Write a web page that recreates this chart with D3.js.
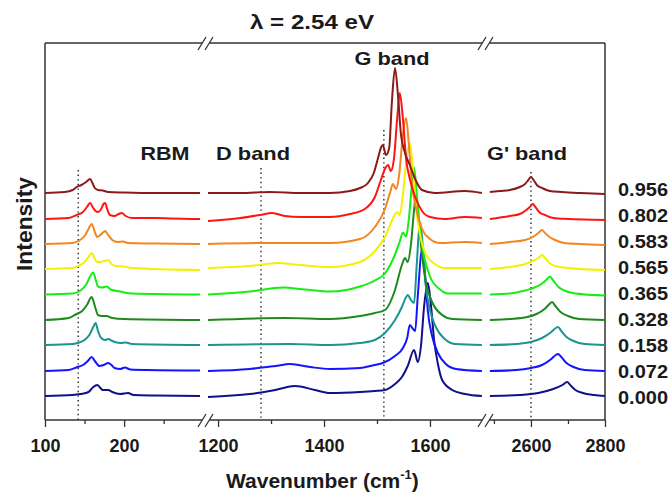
<!DOCTYPE html>
<html>
<head>
<meta charset="utf-8">
<script src="https://cdn.jsdelivr.net/npm/d3@7"></script>
<style>
  html, body { margin: 0; padding: 0; background: #fff; }
  svg { display: block; font-family: Arial, "Liberation Sans", sans-serif; }
</style>
</head>
<body>
<svg id="chart" width="670" height="498"></svg>
<script>
// samples from bottom (0.000) to top (0.956)
const samples = ["0.000", "0.072", "0.158", "0.328", "0.365", "0.565", "0.583", "0.802", "0.956"];
const colors = ["#10108a", "#1414ff", "#1a9494", "#1e8a1e", "#14ee14", "#f2f200", "#f5861f", "#ff1414", "#8b1a1a"];
// vertical offset of each spectrum (a.u.)
const offsets = [0, 25, 51, 76, 101.5, 127, 152, 177, 203];

// axis pieces (wavenumber, cm-1)
const segDomains = [[100, 301], [1181, 1702], [2484, 2800]];
const majorTicks = [[100, 200], [1200, 1400, 1600], [2600, 2800]];
const minorTicks = [[150, 250], [1300, 1500], [2500, 2700]];

// dotted guides: wavenumber and top (a.u.)
const guideWavenumbers = [142, 1281, 1513, 2600];
const guideTops = [226, 228, 266, 224];

// [wavenumber, intensity], one list per sample
const rbmSpectra = [
  [[100,0],[135,1],[145,2],[155,4],[161,9],[166,11],[170,8],[173,6],[177,6],[180,6],[185,4],[195,2],[205,3],[212,1],[240,0.5],[296,0]],
  [[100,0],[130,1],[141,4],[148,6],[154,10],[159,14],[163,10],[169,5],[174,6],[180,8],[184,6],[188,3],[195,2],[201,3.5],[208,1.5],[230,1],[296,0.5]],
  [[100,0],[135,1],[141,2],[150,5],[156,10],[161,18],[164,22],[167,14],[171,7],[176,5],[180,6],[185,4],[195,2],[202,2.5],[210,1],[296,0]],
  [[100,0],[130,2],[140,6],[147,9],[153,15],[159,23],[163,14],[167,5],[172,4],[178,4],[185,2],[200,1],[296,0]],
  [[100,0],[135,1],[145,4],[152,10],[157,18],[161,22],[164,15],[167,8],[172,7],[178,8],[183,5],[195,3],[210,1],[296,0]],
  [[100,0],[135,1],[142,3],[150,7],[155,12],[159,16],[163,10],[166,7],[170,7],[175,8],[180,9],[184,5],[190,3],[200,2.5],[210,1],[296,-1]],
  [[100,0],[135,1],[142,3],[150,8],[155,15],[159,20],[163,12],[166,7],[170,9],[174,12],[176,13],[179,10],[185,4],[192,2],[198,2.5],[205,1],[240,0.5],[296,0]],
  [[100,0],[130,1],[140,4],[148,7],[153,12],[157,16],[161,11],[164,8],[167,7],[171,10],[174,15],[176,16],[179,9],[182,4],[188,3],[193,5],[197,6],[202,3],[210,1],[240,1],[260,0.5],[296,0]],
  [[100,0],[125,1],[135,3],[140,6],[146,8],[152,11],[157,14],[160,10],[163,5],[167,3],[173,2.5],[180,1],[200,0.5],[240,0],[296,0]]
];

const dgSpectra = [
  [[1181,-1],[1260,2],[1308,6],[1345,10],[1383,6],[1411,3],[1468,4],[1496,5],[1515,6],[1534,12],[1547,19],[1558,30],[1570,46],[1577,34],[1583,50],[1589,90],[1596,113],[1602,90],[1608,55],[1615,32],[1623,16],[1642,6],[1666,2],[1698,0]],
  [[1181,0],[1260,2],[1308,5],[1336,7],[1374,4],[1411,2],[1468,3],[1496,6],[1511,8],[1534,15],[1549,23],[1557,33],[1562,46],[1568,42],[1572,40],[1577,75],[1585,121],[1591,95],[1596,60],[1604,35],[1615,18],[1630,7],[1649,2],[1698,0]],
  [[1181,0],[1336,1],[1411,0],[1468,2],[1496,5],[1515,12],[1534,25],[1547,38],[1555,48],[1558,50],[1564,45],[1570,42],[1575,80],[1581,123],[1587,95],[1592,60],[1600,35],[1611,18],[1628,6],[1647,1],[1698,0]],
  [[1181,0],[1326,2],[1411,1],[1468,4],[1496,7],[1515,10],[1534,30],[1547,55],[1553,62],[1558,58],[1564,75],[1570,110],[1574,127],[1579,100],[1585,65],[1592,38],[1604,18],[1623,5],[1642,1],[1698,0]],
  [[1181,0],[1260,3],[1323,7],[1364,5],[1411,3],[1468,8],[1496,14],[1515,21],[1534,40],[1543,53],[1549,62],[1555,58],[1560,75],[1566,110],[1570,127],[1575,100],[1581,65],[1589,38],[1600,18],[1619,5],[1634,1],[1698,1]],
  [[1181,1],[1260,3],[1313,6],[1355,4],[1411,2],[1468,7],[1496,18],[1515,32],[1528,48],[1538,57],[1543,54],[1549,75],[1557,115],[1562,126],[1568,100],[1574,60],[1581,35],[1592,15],[1609,5],[1628,1],[1698,1]],
  [[1181,0],[1298,1],[1355,1],[1411,1],[1468,5],[1496,17],[1515,35],[1525,52],[1530,60],[1536,55],[1542,70],[1549,110],[1555,126],[1560,100],[1566,60],[1574,35],[1585,15],[1600,5],[1619,1],[1666,2],[1698,1]],
  [[1181,-2],[1242,1],[1279,4],[1302,6],[1326,3],[1355,2],[1411,2],[1449,5],[1477,10],[1496,22],[1508,40],[1515,50],[1521,54],[1526,48],[1532,60],[1538,100],[1543,126],[1549,100],[1555,60],[1562,40],[1572,22],[1585,8],[1600,2],[1628,0],[1666,2],[1698,1]],
  [[1181,0],[1242,0],[1298,1],[1355,0],[1411,0],[1449,2],[1468,5],[1483,10],[1494,20],[1502,35],[1508,46],[1511,48],[1517,38],[1523,45],[1528,90],[1534,125],[1540,95],[1545,60],[1553,40],[1562,28],[1572,14],[1585,3],[1609,0],[1666,2],[1698,0]]
];

const gPrimeSpectra = [
  [[2489,0],[2570,1],[2620,3],[2660,7],[2685,11],[2698,14],[2706,11],[2720,6],[2740,3],[2770,1],[2800,0]],
  [[2489,0],[2560,1],[2600,3],[2630,6],[2655,12],[2667,16],[2673,17],[2682,14],[2696,8],[2715,4],[2745,1],[2800,0]],
  [[2489,0],[2560,1],[2600,3],[2630,7],[2655,13],[2667,17],[2673,18],[2682,14],[2696,8],[2715,4],[2745,1],[2800,0]],
  [[2489,0],[2543,1],[2590,3],[2615,6],[2637,11],[2650,16],[2657,18],[2666,14],[2680,8],[2700,4],[2730,1],[2800,0]],
  [[2489,0],[2543,1],[2584,4],[2610,7],[2630,11],[2645,16],[2651,18],[2660,14],[2673,8],[2690,4],[2720,1],[2800,-1]],
  [[2489,0],[2543,2],[2584,5],[2605,8],[2620,11],[2630,14],[2638,11],[2650,6],[2665,3],[2700,1],[2800,-1]],
  [[2489,0],[2543,2],[2584,4],[2605,7],[2620,11],[2630,14],[2638,11],[2650,7],[2665,4],[2690,1],[2733,0],[2800,-1]],
  [[2489,0],[2543,3],[2570,5],[2584,8],[2597,12],[2605,15],[2612,12],[2622,7],[2638,4],[2660,1],[2700,0],[2800,-1]],
  [[2489,1],[2516,2],[2543,3],[2570,6],[2584,9],[2593,13],[2600,16],[2607,13],[2616,8],[2630,5],[2651,2],[2684,1],[2733,0],[2800,-1]]
];

const bandLabels = ["RBM", "D band", "G band", "G' band"];

// ---- layout ----
const L = 45, R = 605, T = 43, B = 420;
const segRanges = [[45, 204], [208, 484], [488, 605]];
const breaks = [206, 486];

const svg = d3.select("#chart");
const y = d3.scaleLinear().domain([-24, 353]).range([B, T]);
const xs = segDomains.map((d, i) => d3.scaleLinear().domain(d).range(segRanges[i]));
const axisColor = "#333";

// frame with breaks
function hLine(yy) {
  const stops = [L, ...breaks.flatMap(b => [b - 3.7, b + 3.3]), R];
  for (let i = 0; i < stops.length; i += 2) {
    svg.append("line").attr("x1", stops[i]).attr("x2", stops[i + 1])
      .attr("y1", yy).attr("y2", yy)
      .attr("stroke", axisColor).attr("stroke-width", 1.5);
  }
  breaks.forEach(b => {
    [[-8, 0], [-1, 7]].forEach(([a, c]) => {
      svg.append("line").attr("x1", b + a).attr("y1", yy + 7).attr("x2", b + c).attr("y2", yy - 6)
        .attr("stroke", axisColor).attr("stroke-width", 1.3);
    });
  });
}
hLine(T);
hLine(B);
[L, R].forEach(xx => svg.append("line").attr("x1", xx).attr("x2", xx).attr("y1", T).attr("y2", B)
  .attr("stroke", axisColor).attr("stroke-width", 1.5));

// axes
xs.forEach((x, i) => {
  svg.append("g").attr("transform", `translate(0,${B})`)
    .call(d3.axisBottom(x).tickValues(minorTicks[i]).tickSize(4).tickFormat(""))
    .call(g => g.select(".domain").remove())
    .call(g => g.selectAll("line").attr("stroke", axisColor).attr("stroke-width", 1.3));
  svg.append("g").attr("transform", `translate(0,${B})`)
    .call(d3.axisBottom(x).tickValues(majorTicks[i]).tickSize(7).tickPadding(12).tickFormat(d3.format("d")))
    .call(g => g.select(".domain").remove())
    .call(g => g.selectAll("line").attr("stroke", axisColor).attr("stroke-width", 1.3))
    .call(g => g.selectAll("text").attr("font-size", 18).attr("font-weight", "bold")
      .attr("font-family", "Arial, 'Liberation Sans', sans-serif").attr("fill", "#1a1a1a"));
});

// dotted guides
const guideSeg = [0, 1, 1, 2];
guideWavenumbers.forEach((w, i) => {
  const x = xs[guideSeg[i]](w);
  svg.append("line").attr("x1", x).attr("x2", x).attr("y1", y(guideTops[i])).attr("y2", B)
    .attr("stroke", "#222").attr("stroke-width", 1.4).attr("stroke-dasharray", "1.4,3.2");
});

// spectra
[rbmSpectra, dgSpectra, gPrimeSpectra].forEach((set, s) => {
  const line = d3.line().x(d => xs[s](d[0])).y(d => y(d[1])).curve(d3.curveMonotoneX);
  set.forEach((pts, i) => {
    svg.append("path")
      .attr("d", line(pts.map(p => [p[0], p[1] + offsets[i]])))
      .attr("fill", "none").attr("stroke", colors[i]).attr("stroke-width", 2)
      .attr("stroke-linejoin", "round");
  });
});

// sample labels on the right
const labelY = d3.scalePoint().domain(samples).range([398, 190]);
svg.selectAll("text.sample").data(samples).enter().append("text")
  .attr("class", "sample")
  .attr("x", 618).attr("y", d => labelY(d)).attr("dy", "0.36em")
  .attr("font-size", 18).attr("font-weight", "bold").attr("fill", "#1a1a1a")
  .attr("textLength", 50).attr("lengthAdjust", "spacingAndGlyphs")
  .text(d => d);

// band labels
const bandPos = [[165, 160, 49], [253, 160, 74], [392, 65, 75], [527, 160, 80]];
bandLabels.forEach((t, i) => {
  const [cx, by, w] = bandPos[i];
  svg.append("text").attr("x", cx - w / 2).attr("y", by)
    .attr("font-size", 19).attr("font-weight", "bold").attr("fill", "#1a1a1a")
    .attr("textLength", w).attr("lengthAdjust", "spacingAndGlyphs")
    .text(t);
});

// title
svg.append("text").attr("x", 250).attr("y", 29)
  .attr("font-size", 20).attr("font-weight", "bold").attr("fill", "#1a1a1a")
  .attr("textLength", 124).attr("lengthAdjust", "spacingAndGlyphs")
  .text("λ = 2.54 eV");

// x axis title
const xt = svg.append("text").attr("x", 226).attr("y", 488)
  .attr("font-size", 21).attr("font-weight", "bold").attr("fill", "#1a1a1a");
xt.append("tspan").text("Wavenumber (cm");
xt.append("tspan").attr("dy", -9).attr("font-size", 13).text("-1");
xt.append("tspan").attr("dy", 9).text(")");

// y axis title
svg.append("text").attr("transform", "translate(32,224) rotate(-90)")
  .attr("x", -47)
  .attr("font-size", 22).attr("font-weight", "bold").attr("fill", "#1a1a1a")
  .attr("textLength", 94).attr("lengthAdjust", "spacingAndGlyphs")
  .text("Intensity");
</script>
</body>
</html>
